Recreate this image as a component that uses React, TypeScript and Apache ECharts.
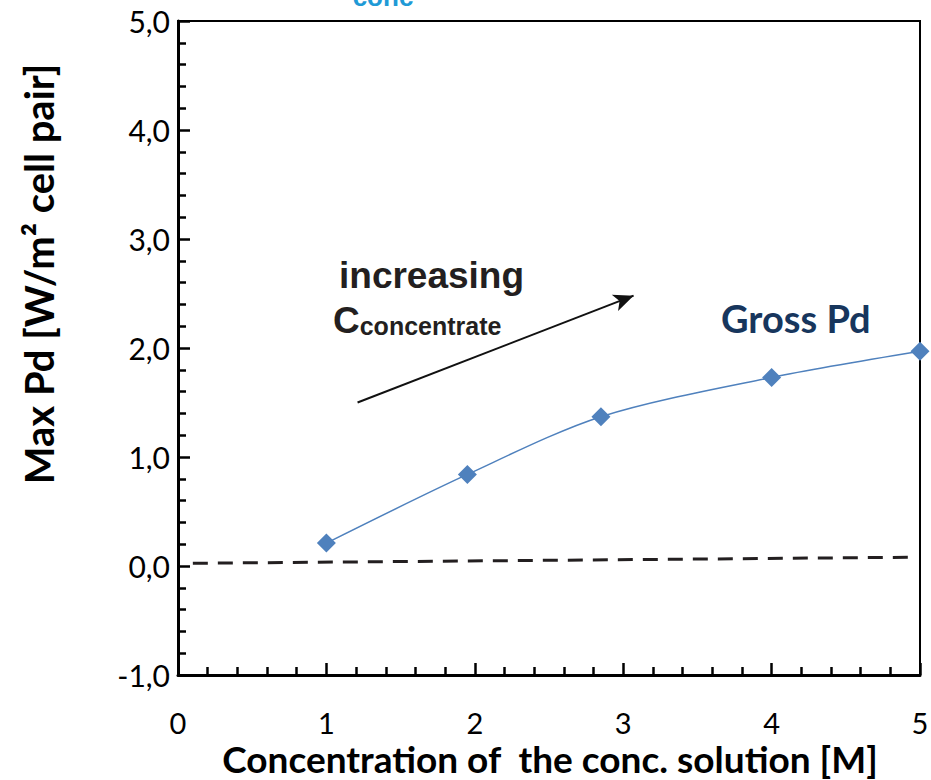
import React, { useEffect, useRef } from "react";
import * as echarts from "echarts";

// Data
const concentrations = [1, 1.95, 2.85, 4, 5];
const grossPd = [0.21, 0.84, 1.37, 1.73, 1.97];
const baselineX = [0.1, 4.92];
const baselineY = [0.025, 0.08];
const arrowStart = [1.21, 1.5];
const arrowEnd = [3.07, 2.48];
const xTicks = [0, 1, 2, 3, 4, 5];
const yRange = [-1, 5];

const fmtY = (v: number) => v.toFixed(1).replace(".", ",");

export default function App() {
  const ref = useRef<HTMLDivElement>(null);
  useEffect(() => {
    if (!ref.current) return;
    const chart = echarts.init(ref.current, null, { renderer: "svg" });
    const axisFont = "Lato";
    chart.setOption({
      animation: false,
      backgroundColor: "#ffffff",
      grid: {
        left: 178,
        top: 21,
        right: 11,
        bottom: 105,
        containLabel: false,
        outerBoundsMode: "none",
        show: true,
        borderColor: "#000",
        borderWidth: 2,
        backgroundColor: "transparent",
      },
      xAxis: {
        type: "value",
        min: xTicks[0],
        max: xTicks[xTicks.length - 1],
        interval: 1,
        axisLine: { onZero: false, lineStyle: { color: "#000", width: 3 } },
        axisTick: { inside: true, length: 12, lineStyle: { color: "#000", width: 2.5 } },
        minorTick: { show: true, splitNumber: 5, length: 8, lineStyle: { color: "#000", width: 2.5 } },
        splitLine: { show: false },
        axisLabel: { color: "#000", fontFamily: axisFont, fontSize: 29, lineHeight: 28, margin: 33 },
      },
      yAxis: {
        type: "value",
        min: yRange[0],
        max: yRange[1],
        interval: 1,
        axisLine: { onZero: false, lineStyle: { color: "#000", width: 3 } },
        axisTick: { inside: true, length: 12, lineStyle: { color: "#000", width: 2.5 } },
        minorTick: { show: true, splitNumber: 5, length: 8, lineStyle: { color: "#000", width: 2.5 } },
        splitLine: { show: false },
        axisLabel: { color: "#000", fontFamily: axisFont, fontSize: 30, margin: 8, formatter: fmtY },
      },
      series: [
        {
          name: "Baseline",
          type: "line",
          data: baselineX.map((x, i) => [x, baselineY[i]]),
          symbol: "none",
          lineStyle: { color: "#231f20", width: 3, type: [15, 10] },
          z: 2,
          markLine: {
            silent: true,
            symbol: ["none", "arrow"],
            symbolSize: [13, 20],
            label: { show: false },
            lineStyle: { color: "#111", width: 2, type: "solid" },
            data: [[{ coord: arrowStart }, { coord: arrowEnd }]],
          },
        },
        {
          name: "Gross Pd",
          type: "line",
          data: concentrations.map((x, i) => [x, grossPd[i]]),
          smooth: 0.3,
          symbol: "diamond",
          symbolSize: 19,
          itemStyle: { color: "#4f81bd" },
          lineStyle: { color: "#4f81bd", width: 1.5 },
          z: 3,
        },
      ],
      graphic: [
        {
          type: "text",
          x: 550,
          y: 758,
          style: {
            text: "Concentration of  the conc. solution [M]",
            fontFamily: axisFont,
            fontWeight: "bold",
            fontSize: 37,
            lineHeight: 34,
            fill: "#000",
            align: "center",
            verticalAlign: "middle",
          },
        },
        {
          type: "text",
          x: 39,
          y: 274,
          rotation: Math.PI / 2,
          style: {
            text: "Max Pd [W/m² cell pair]",
            fontFamily: axisFont,
            fontWeight: "bold",
            fontSize: 40,
            fill: "#000",
            align: "center",
            verticalAlign: "middle",
          },
        },
        {
          type: "text",
          x: 721,
          y: 318,
          style: {
            text: "Gross Pd",
            fontFamily: axisFont,
            fontWeight: "bold",
            fontSize: 38,
            fill: "#17365d",
            align: "left",
            verticalAlign: "middle",
          },
        },
        {
          type: "text",
          x: 339,
          y: 275,
          style: {
            text: "increasing",
            fontFamily: "Liberation Sans",
            fontWeight: "bold",
            fontSize: 37,
            fill: "#231f20",
            align: "left",
            verticalAlign: "middle",
          },
        },
        {
          type: "text",
          x: 333,
          y: 318,
          style: {
            text: "{c|C}{s|concentrate}",
            align: "left",
            verticalAlign: "middle",
            rich: {
              c: { fontFamily: "Liberation Sans", fontWeight: "bold", fontSize: 37, fill: "#231f20", color: "#231f20", verticalAlign: "bottom" },
              s: { fontFamily: "Liberation Sans", fontWeight: "bold", fontSize: 25, fill: "#231f20", color: "#231f20", padding: [16, 0, 0, 0], verticalAlign: "bottom" },
            },
          },
        },
        {
          type: "text",
          x: 383,
          y: 10,
          style: {
            text: "conc",
            fontFamily: "Liberation Sans",
            fontWeight: "bold",
            fontSize: 26,
            fill: "#1f9ad6",
            align: "center",
            verticalAlign: "bottom",
          },
        },
      ],
    });
    return () => chart.dispose();
  }, []);
  return (
    <div
      ref={ref}
      style={{ position: "fixed", left: 0, top: 0, width: 931, height: 780, background: "#fff" }}
    />
  );
}
